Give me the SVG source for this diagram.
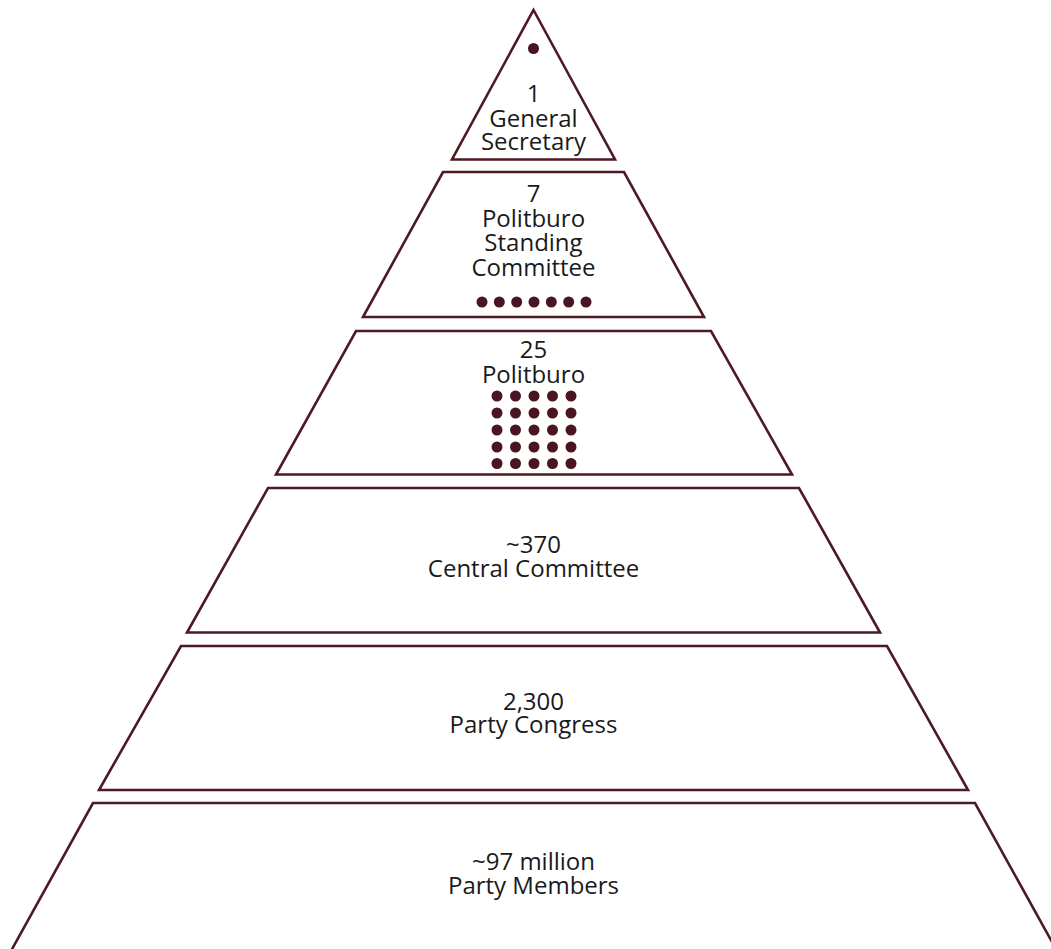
<svg xmlns="http://www.w3.org/2000/svg" width="1051" height="949" viewBox="0 0 1051 949">
<style>
.tier{fill:#ffffff;stroke:#4d1922;stroke-width:2.6;stroke-linejoin:miter}
.dot{fill:#4a1520}
.lbl{font-family:"Open Sans","Liberation Sans",sans-serif;font-size:24px;fill:#1a1a1a;text-anchor:middle}
</style>
<rect width="1051" height="949" fill="#ffffff"/>
<g id="general-secretary">
<polygon class="tier" points="533.5,10 615,159.5 452,159.5"/>
<circle class="dot" cx="533.5" cy="48.5" r="5.5"/>
<text class="lbl" x="533.5" y="102">1</text>
<text class="lbl" x="533.5" y="126.5">General</text>
<text class="lbl" x="533.5" y="150">Secretary</text>
</g>
<g id="standing-committee">
<polygon class="tier" points="443,172 624,172 704,317 363,317"/>
<text class="lbl" x="533.5" y="202">7</text>
<text class="lbl" x="533.5" y="226.5">Politburo</text>
<text class="lbl" x="533.5" y="251">Standing</text>
<text class="lbl" x="533.5" y="275.5">Committee</text>
<g>
<circle class="dot" cx="482" cy="302" r="5.5"/>
<circle class="dot" cx="499.3" cy="302" r="5.5"/>
<circle class="dot" cx="516.7" cy="302" r="5.5"/>
<circle class="dot" cx="534" cy="302" r="5.5"/>
<circle class="dot" cx="551.3" cy="302" r="5.5"/>
<circle class="dot" cx="568.7" cy="302" r="5.5"/>
<circle class="dot" cx="586" cy="302" r="5.5"/>
</g>
</g>
<g id="politburo">
<polygon class="tier" points="356,331 711,331 792,474.5 276,474.5"/>
<text class="lbl" x="533.5" y="358">25</text>
<text class="lbl" x="533.5" y="382.5">Politburo</text>
<g>
<circle class="dot" cx="497" cy="396" r="5.5"/><circle class="dot" cx="515.5" cy="396" r="5.5"/><circle class="dot" cx="534" cy="396" r="5.5"/><circle class="dot" cx="552.5" cy="396" r="5.5"/><circle class="dot" cx="571" cy="396" r="5.5"/>
<circle class="dot" cx="497" cy="413" r="5.5"/><circle class="dot" cx="515.5" cy="413" r="5.5"/><circle class="dot" cx="534" cy="413" r="5.5"/><circle class="dot" cx="552.5" cy="413" r="5.5"/><circle class="dot" cx="571" cy="413" r="5.5"/>
<circle class="dot" cx="497" cy="430" r="5.5"/><circle class="dot" cx="515.5" cy="430" r="5.5"/><circle class="dot" cx="534" cy="430" r="5.5"/><circle class="dot" cx="552.5" cy="430" r="5.5"/><circle class="dot" cx="571" cy="430" r="5.5"/>
<circle class="dot" cx="497" cy="447" r="5.5"/><circle class="dot" cx="515.5" cy="447" r="5.5"/><circle class="dot" cx="534" cy="447" r="5.5"/><circle class="dot" cx="552.5" cy="447" r="5.5"/><circle class="dot" cx="571" cy="447" r="5.5"/>
<circle class="dot" cx="497" cy="463.5" r="5.5"/><circle class="dot" cx="515.5" cy="463.5" r="5.5"/><circle class="dot" cx="534" cy="463.5" r="5.5"/><circle class="dot" cx="552.5" cy="463.5" r="5.5"/><circle class="dot" cx="571" cy="463.5" r="5.5"/>
</g>
</g>
<g id="central-committee">
<polygon class="tier" points="268,488 799,488 880,632.5 187,632.5"/>
<text class="lbl" x="533.5" y="553">~370</text>
<text class="lbl" x="533.5" y="577">Central Committee</text>
</g>
<g id="party-congress">
<polygon class="tier" points="181,646 887,646 968,790 99,790"/>
<text class="lbl" x="533.5" y="709.5">2,300</text>
<text class="lbl" x="533.5" y="733">Party Congress</text>
</g>
<g id="party-members">
<polygon class="tier" points="93,803 975,803 1062,960 6,960"/>
<text class="lbl" x="533.5" y="870">~97 million</text>
<text class="lbl" x="533.5" y="894">Party Members</text>
</g>
<g id="connectors"></g>
</svg>
